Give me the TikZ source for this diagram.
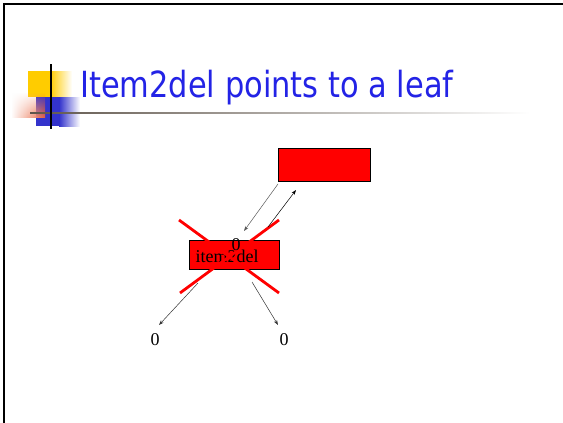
\documentclass[tikz,border=0pt]{standalone}
\usepackage{fontspec}
\setmainfont{Liberation Serif}
\newfontfamily\titlefont{DejaVu Sans}
\usetikzlibrary{arrows.meta,fadings}
\definecolor{titleblue}{RGB}{35,35,230}
\definecolor{logoyellow}{RGB}{255,204,0}
\definecolor{logoblue}{RGB}{51,51,204}
\definecolor{logoorange}{RGB}{232,96,56}
\definecolor{rulegrey}{RGB}{95,85,75}
\begin{document}
\begin{tikzpicture}[x=1pt,y=-1pt,
  redbox/.style={draw=black,line width=0.6pt,fill=red,inner sep=0pt},
  ptr/.style={line width=0.5pt,-{Stealth[length=5pt,width=3.5pt]}},
  crossline/.style={red,line width=2.8pt},
  val/.style={font=\fontsize{18}{20}\selectfont,inner sep=0pt,anchor=base}]
\useasboundingbox (0,0) rectangle (563,423);
\fill[white] (0,0) rectangle (563,423);

% slide frame
\draw[line width=2pt] (4,425) -- (4,4) -- (565,4);

% title logo
\fill[logoyellow] (28,71) rectangle (50,97);
\shade[left color=logoyellow,right color=white] (50,71) rectangle (72,97);
\fill[logoblue] (36,97) rectangle (59,126);
\shade[left color=logoblue,right color=white] (59,97) rectangle (80,126);
\shade[left color=white,right color=logoorange,path fading=north] (11,92) rectangle (45,118);
\shade[left color=rulegrey,right color=white] (30,112.3) rectangle (530,113.8);
\draw[line width=1.5pt] (51,64) -- (51,129);

% title
\node[anchor=base west,inner sep=0pt,text=titleblue,font=\titlefont\fontsize{36}{40}\selectfont] (title) at (80,97)
  {\scalebox{0.846}[1]{Item2del points to a leaf}};

% tree nodes
\node[redbox,minimum width=92pt,minimum height=33pt,anchor=north west] (parent) at (278,148) {};
\node[redbox,minimum width=90pt,minimum height=29pt,anchor=north west] (item) at (189,240) {};
\node[val] (name) at (227,262) {item2del};

% crossing out the deleted item
\coordinate (xa) at (179,220);
\coordinate (xb) at (279,293);
\coordinate (xc) at (279,220);
\coordinate (xd) at (180,293);
\draw[crossline] (xa) -- (xb);
\draw[crossline] (xc) -- (xd);

% values
\node[val] (ztop) at (236,250.5) {0};
\node[val] (zleft) at (155,345) {0};
\node[val] (zright) at (284,345) {0};

% pointers
\coordinate (p1s) at (278,184);
\coordinate (p1e) at (244,231);
\coordinate (p2s) at (268,227);
\coordinate (p2e) at (296,190);
\coordinate (p3s) at (198,283);
\coordinate (p3e) at (159,325);
\coordinate (p4s) at (252,282);
\coordinate (p4e) at (278,325);
\draw[ptr,black!65] (p1s) -- (p1e);
\draw[ptr] (p2s) -- (p2e);
\draw[ptr,black!80] (p3s) -- (p3e);
\draw[ptr,black!80] (p4s) -- (p4e);
\end{tikzpicture}
\end{document}
